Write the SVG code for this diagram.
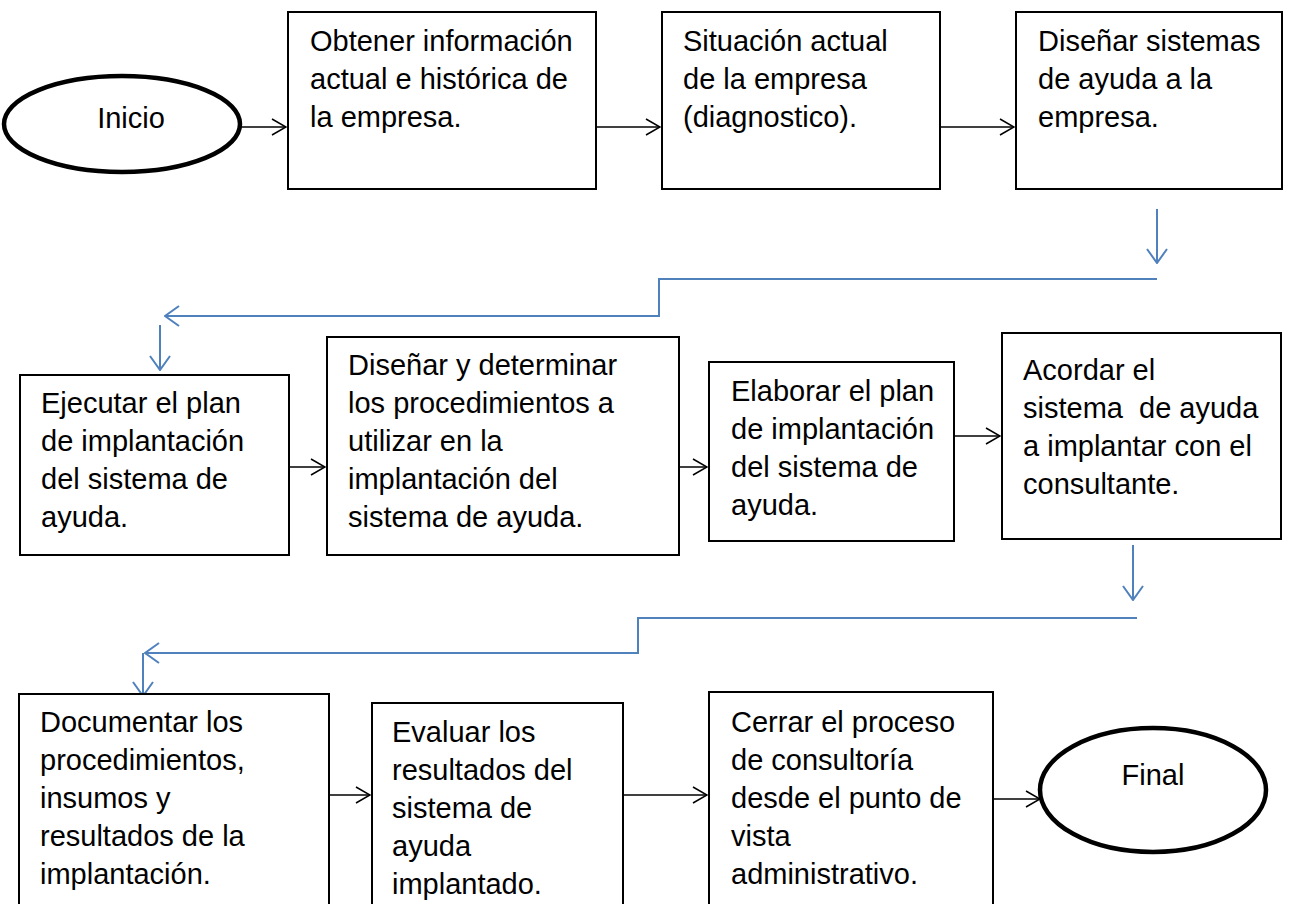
<svg xmlns="http://www.w3.org/2000/svg" width="1290" height="904" viewBox="0 0 1290 904">
<style>
.box{fill:#fff;stroke:#000;stroke-width:2}
.oval{fill:#fff;stroke:#000;stroke-width:4.5}
.t{font-family:"Liberation Sans",Arial,sans-serif;font-size:29px;fill:#000;white-space:pre}
.k{fill:none;stroke:#000;stroke-width:1.5}
.b{fill:none;stroke:#4F81BD;stroke-width:2}
</style>
<defs>
<marker id="ak" viewBox="0 0 16 18" refX="15" refY="9" markerWidth="16" markerHeight="18" markerUnits="userSpaceOnUse" orient="auto">
<path d="M1,1 L15,9 L1,17" fill="none" stroke="#000" stroke-width="1.5"/>
</marker>
<marker id="ab" viewBox="0 0 16 22" refX="15" refY="11" markerWidth="16" markerHeight="22" markerUnits="userSpaceOnUse" orient="auto">
<path d="M1,1 L15,11 L1,21" fill="none" stroke="#4F81BD" stroke-width="2"/>
</marker>
</defs>
<g id="connectors">
<line class="k" x1="241" y1="127" x2="286" y2="127" marker-end="url(#ak)"/>
<line class="k" x1="596" y1="127" x2="660" y2="127" marker-end="url(#ak)"/>
<line class="k" x1="940" y1="127" x2="1014" y2="127" marker-end="url(#ak)"/>
<line class="b" x1="1157" y1="209" x2="1157" y2="263" marker-end="url(#ab)"/>
<polyline class="b" points="1157,279 659,279 659,316 165,316" marker-end="url(#ab)"/>
<line class="b" x1="160" y1="325" x2="160" y2="370" marker-end="url(#ab)"/>
<line class="k" x1="289" y1="467" x2="325" y2="467" marker-end="url(#ak)"/>
<line class="k" x1="679" y1="467" x2="707" y2="467" marker-end="url(#ak)"/>
<line class="k" x1="954" y1="436" x2="1000" y2="436" marker-end="url(#ak)"/>
<line class="b" x1="1133" y1="545" x2="1133" y2="600" marker-end="url(#ab)"/>
<polyline class="b" points="1137,618 638,618 638,653 145,653" marker-end="url(#ab)"/>
<line class="b" x1="143" y1="653" x2="143" y2="696" marker-end="url(#ab)"/>
<line class="k" x1="329" y1="795" x2="370" y2="795" marker-end="url(#ak)"/>
<line class="k" x1="623" y1="795" x2="707" y2="795" marker-end="url(#ak)"/>
<line class="k" x1="993" y1="799" x2="1040" y2="799" marker-end="url(#ak)"/>
</g>
<g id="inicio">
<ellipse class="oval" cx="122" cy="124" rx="118" ry="48"/>
<text class="t" x="131" y="128" text-anchor="middle">Inicio</text>
</g>
<g id="n1">
<rect class="box" x="288" y="12" width="308" height="177"/>
<text class="t" x="310" y="51">Obtener información</text>
<text class="t" x="310" y="89">actual e histórica de</text>
<text class="t" x="310" y="127">la empresa.</text>
</g>
<g id="n2">
<rect class="box" x="662" y="12" width="278" height="177"/>
<text class="t" x="683" y="51">Situación actual</text>
<text class="t" x="683" y="89">de la empresa</text>
<text class="t" x="683" y="127">(diagnostico).</text>
</g>
<g id="n3">
<rect class="box" x="1016" y="12" width="266" height="177"/>
<text class="t" x="1038" y="51">Diseñar sistemas</text>
<text class="t" x="1038" y="89">de ayuda a la</text>
<text class="t" x="1038" y="127">empresa.</text>
</g>
<g id="n4">
<rect class="box" x="20" y="375" width="269" height="180"/>
<text class="t" x="41" y="413">Ejecutar el plan</text>
<text class="t" x="41" y="451">de implantación</text>
<text class="t" x="41" y="489">del sistema de</text>
<text class="t" x="41" y="527">ayuda.</text>
</g>
<g id="n5">
<rect class="box" x="327" y="337" width="352" height="218"/>
<text class="t" x="348" y="375">Diseñar y determinar</text>
<text class="t" x="348" y="413">los procedimientos a</text>
<text class="t" x="348" y="451">utilizar en la</text>
<text class="t" x="348" y="489">implantación del</text>
<text class="t" x="348" y="527">sistema de ayuda.</text>
</g>
<g id="n6">
<rect class="box" x="709" y="362" width="245" height="179"/>
<text class="t" x="731" y="401">Elaborar el plan</text>
<text class="t" x="731" y="439">de implantación</text>
<text class="t" x="731" y="477">del sistema de</text>
<text class="t" x="731" y="515">ayuda.</text>
</g>
<g id="n7">
<rect class="box" x="1002" y="333" width="279" height="206"/>
<text class="t" x="1023" y="380">Acordar el</text>
<text class="t" x="1023" y="418">sistema  de ayuda</text>
<text class="t" x="1023" y="456">a implantar con el</text>
<text class="t" x="1023" y="494">consultante.</text>
</g>
<g id="n8">
<rect class="box" x="19" y="694" width="310" height="230"/>
<text class="t" x="40" y="732">Documentar los</text>
<text class="t" x="40" y="770">procedimientos,</text>
<text class="t" x="40" y="808">insumos y</text>
<text class="t" x="40" y="846">resultados de la</text>
<text class="t" x="40" y="884">implantación.</text>
</g>
<g id="n9">
<rect class="box" x="372" y="703" width="251" height="221"/>
<text class="t" x="392" y="742">Evaluar los</text>
<text class="t" x="392" y="780">resultados del</text>
<text class="t" x="392" y="818">sistema de</text>
<text class="t" x="392" y="856">ayuda</text>
<text class="t" x="392" y="894">implantado.</text>
</g>
<g id="n10">
<rect class="box" x="709" y="692" width="284" height="232"/>
<text class="t" x="731" y="732">Cerrar el proceso</text>
<text class="t" x="731" y="770">de consultoría</text>
<text class="t" x="731" y="808">desde el punto de</text>
<text class="t" x="731" y="846">vista</text>
<text class="t" x="731" y="884">administrativo.</text>
</g>
<g id="final">
<ellipse class="oval" cx="1153" cy="790" rx="113" ry="62"/>
<text class="t" x="1153" y="785" text-anchor="middle">Final</text>
</g>
</svg>
